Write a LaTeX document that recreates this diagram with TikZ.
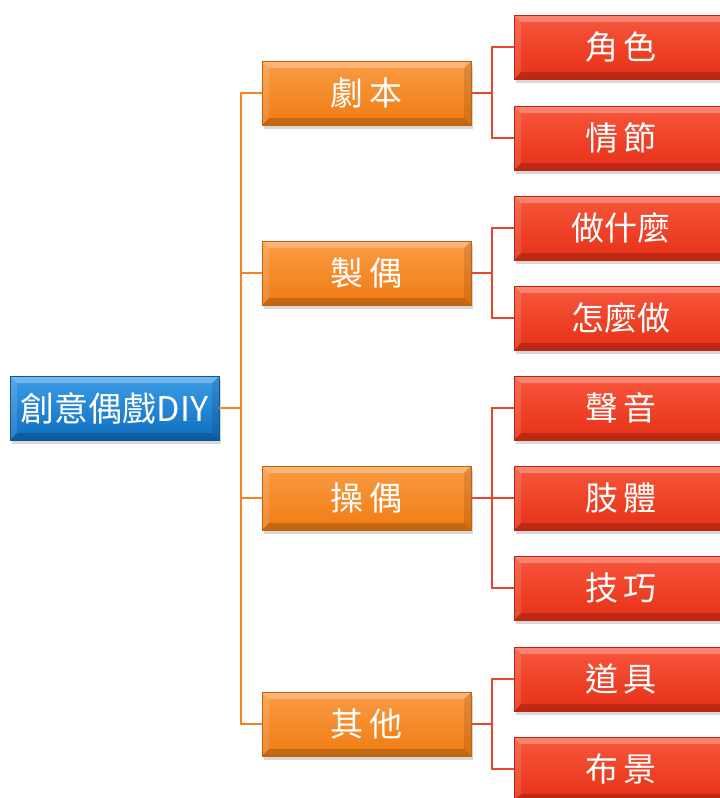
\documentclass[tikz,border=0pt]{standalone}
\usepackage{fontspec}
\newfontfamily\cjk{Noto Sans CJK TC}
\usetikzlibrary{shadows}
\definecolor{bluetop}{HTML}{3C9DE8}
\definecolor{bluebot}{HTML}{0E6EBE}
\definecolor{orgtop}{HTML}{FA9C45}
\definecolor{orgbot}{HTML}{EF7C12}
\definecolor{redtop}{HTML}{F7573C}
\definecolor{redbot}{HTML}{E63016}
\definecolor{oline}{HTML}{F5821F}
\definecolor{rline}{HTML}{E5482A}
\tikzset{
  x=1pt, y=1pt,
  bevel/.style={path picture={
    \fill[white,opacity=0.28] (path picture bounding box.north west) -- (path picture bounding box.north east)
      -- ([xshift=-7pt,yshift=-7pt]path picture bounding box.north east) -- ([xshift=7pt,yshift=-7pt]path picture bounding box.north west) -- cycle;
    \fill[black,opacity=0.18] (path picture bounding box.south west) -- (path picture bounding box.south east)
      -- ([xshift=-7pt,yshift=7pt]path picture bounding box.south east) -- ([xshift=7pt,yshift=7pt]path picture bounding box.south west) -- cycle;
    \fill[white,opacity=0.12] (path picture bounding box.north west) -- (path picture bounding box.south west)
      -- ([xshift=7pt,yshift=7pt]path picture bounding box.south west) -- ([xshift=7pt,yshift=-7pt]path picture bounding box.north west) -- cycle;
    \fill[black,opacity=0.10] (path picture bounding box.north east) -- (path picture bounding box.south east)
      -- ([xshift=-7pt,yshift=7pt]path picture bounding box.south east) -- ([xshift=-7pt,yshift=-7pt]path picture bounding box.north east) -- cycle;
  }},
  boxbase/.style={rectangle, bevel, minimum height=64pt, inner sep=0pt, text=white,
    font=\cjk\fontsize{33}{38}\selectfont,
    drop shadow={shadow xshift=2pt, shadow yshift=-4pt, opacity=0.3}},
  rootbox/.style={boxbase, minimum width=209pt, top color=bluetop, bottom color=bluebot, draw=bluebot!80!black, line width=0.5pt},
  orgbox/.style={boxbase, minimum width=209pt, top color=orgtop, bottom color=orgbot, draw=orgbot!80!black, line width=0.5pt},
  redbox/.style={boxbase, minimum width=214pt, top color=redtop, bottom color=redbot, draw=redbot!80!black, line width=0.5pt},
  olink/.style={draw=oline, line width=2pt},
  rlink/.style={draw=rline, line width=2pt},
}
\begin{document}
\begin{tikzpicture}
\useasboundingbox (0,0) rectangle (720,-798);
\fill[white] (0,0) rectangle (720,-798);
% root
\node[rootbox] (root) at (114.5,-408) {\fontsize{34}{38}\selectfont 創意偶戲DIY};
% level 1
\node[orgbox] (o1) at (366.5,-93) {劇\,本};
\node[orgbox] (o2) at (366.5,-273) {製\,偶};
\node[orgbox] (o3) at (366.5,-498) {操\,偶};
\node[orgbox] (o4) at (366.5,-724) {其\,他};
% level 2
\node[redbox] (r1) at (621,-47) {角\,色};
\node[redbox] (r2) at (621,-138) {情\,節};
\node[redbox] (r3) at (621,-228) {做什麼};
\node[redbox] (r4) at (621,-318) {怎麼做};
\node[redbox] (r5) at (621,-408) {聲\,音};
\node[redbox] (r6) at (621,-498) {肢\,體};
\node[redbox] (r7) at (621,-588) {技\,巧};
\node[redbox] (r8) at (621,-679) {道\,具};
\node[redbox] (r9) at (621,-769) {布\,景};
% connectors root -> level 1
\foreach \o in {o1,o2,o3,o4}
  \draw[olink] (root.east) -- ++(22,0) |- (\o.west);
% connectors level 1 -> level 2
\draw[rlink] (o1.east) -- ++(21,0) |- (r1.west);
\draw[rlink] (o1.east) -- ++(21,0) |- (r2.west);
\draw[rlink] (o2.east) -- ++(21,0) |- (r3.west);
\draw[rlink] (o2.east) -- ++(21,0) |- (r4.west);
\draw[rlink] (o3.east) -- ++(21,0) |- (r5.west);
\draw[rlink] (o3.east) -- ++(21,0) |- (r6.west);
\draw[rlink] (o3.east) -- ++(21,0) |- (r7.west);
\draw[rlink] (o4.east) -- ++(21,0) |- (r8.west);
\draw[rlink] (o4.east) -- ++(21,0) |- (r9.west);
\end{tikzpicture}
\end{document}
